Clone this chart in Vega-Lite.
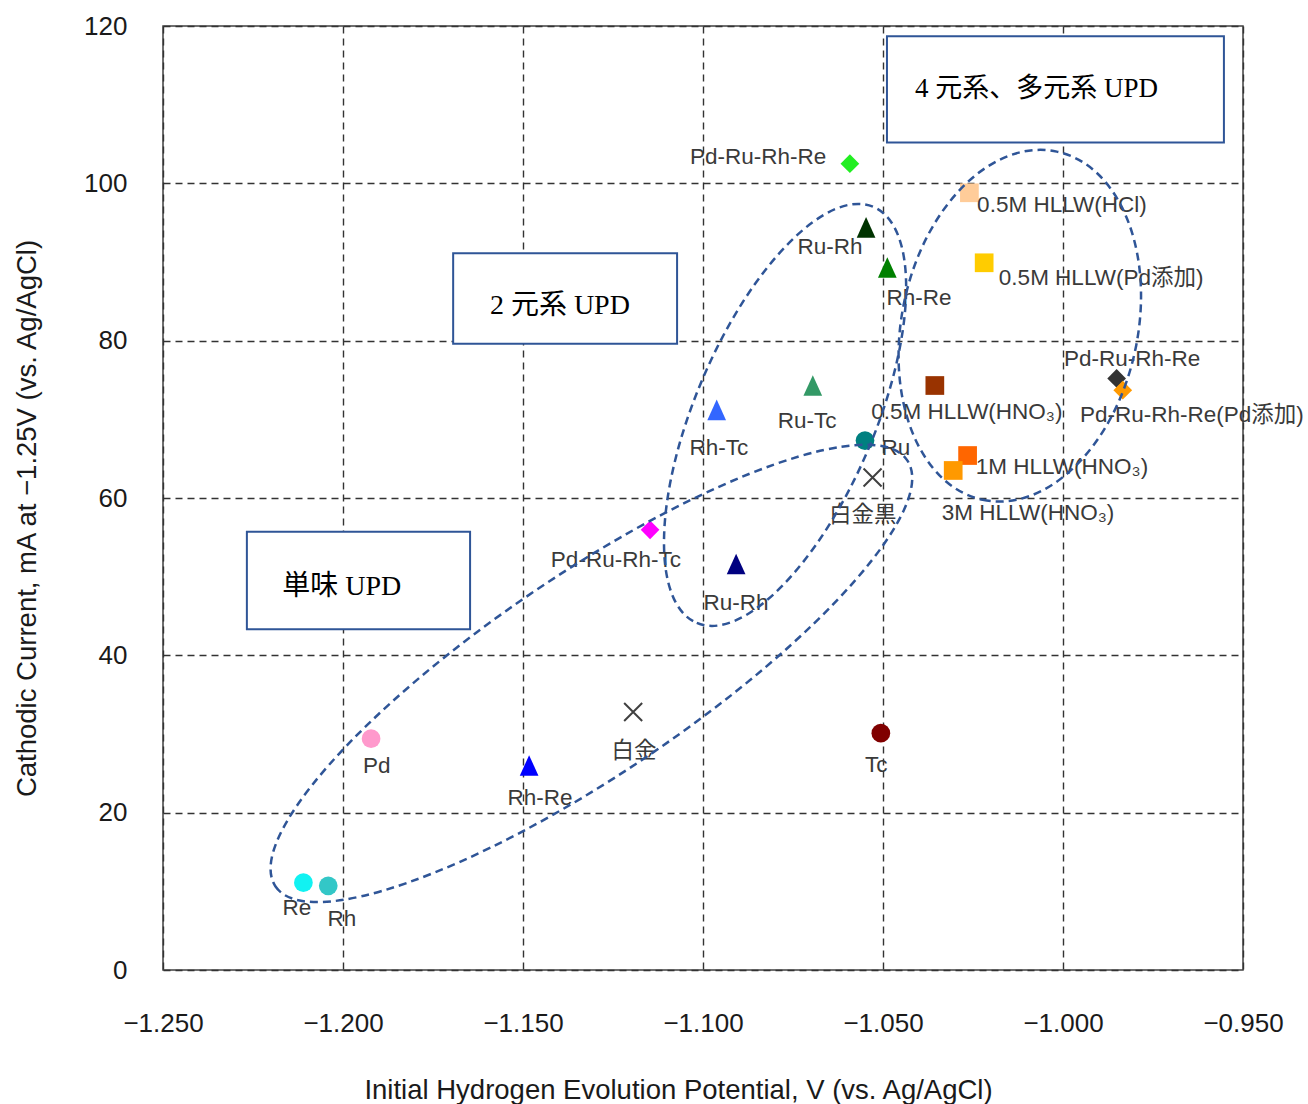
{
  "$schema": "https://vega.github.io/schema/vega-lite/v6.json",
  "width": 1080,
  "height": 944,
  "autosize": {"type": "none"},
  "padding": {"left": 163, "top": 26, "right": 65, "bottom": 134},
  "background": "white",
  "config": {"view": {"stroke": "#404040", "strokeWidth": 1.5}, "font": "Liberation Sans"},
  "datasets": {
    "markers": [
      {"id": "Re", "x": -1.2110, "y": 11.1},
      {"id": "Rh", "x": -1.2041, "y": 10.7},
      {"id": "Pd", "x": -1.1922, "y": 29.4},
      {"id": "Tc", "x": -1.0506, "y": 30.1},
      {"id": "Ru", "x": -1.0550, "y": 67.3},
      {"id": "Rh-Re (blue)", "x": -1.1483, "y": 26.0},
      {"id": "Ru-Rh (navy)", "x": -1.0908, "y": 51.6},
      {"id": "Rh-Tc", "x": -1.0962, "y": 71.2},
      {"id": "Ru-Tc", "x": -1.0695, "y": 74.3},
      {"id": "Ru-Rh (dark green)", "x": -1.0547, "y": 94.4},
      {"id": "Rh-Re (green)", "x": -1.0488, "y": 89.3},
      {"id": "Pd-Ru-Rh-Tc", "x": -1.1147, "y": 55.95},
      {"id": "Pd-Ru-Rh-Re (green)", "x": -1.0592, "y": 102.5},
      {"id": "Pd-Ru-Rh-Re (dark)", "x": -0.9851, "y": 75.2},
      {"id": "Pd-Ru-Rh-Re(Pd添加)", "x": -0.9834, "y": 73.7},
      {"id": "0.5M HLLW(HCl)", "x": -1.0260, "y": 98.8},
      {"id": "0.5M HLLW(Pd添加)", "x": -1.0219, "y": 89.9},
      {"id": "0.5M HLLW(HNO3)", "x": -1.0356, "y": 74.3},
      {"id": "1M HLLW(HNO3)", "x": -1.0265, "y": 65.4},
      {"id": "3M HLLW(HNO3)", "x": -1.0305, "y": 63.5}
    ],
    "crosses": [
      {"id": "白金", "x": -1.1194, "y": 32.8},
      {"id": "白金黒", "x": -1.0529, "y": 62.6}
    ],
    "labels": [
      {"text": "Pd-Ru-Rh-Re", "x": -1.0847, "y": 103.3},
      {"text": "Ru-Rh", "x": -1.0647, "y": 91.9},
      {"text": "Rh-Re", "x": -1.0400, "y": 85.4},
      {"text": "0.5M HLLW(HCl)", "x": -1.0003, "y": 97.2},
      {"text": "0.5M HLLW(Pd添加)", "x": -0.9894, "y": 88.0},
      {"text": "Pd-Ru-Rh-Re", "x": -0.9808, "y": 77.7},
      {"text": "0.5M HLLW(HNO₃)", "x": -1.0267, "y": 70.9},
      {"text": "Pd-Ru-Rh-Re(Pd添加)", "x": -0.9642, "y": 70.5},
      {"text": "1M HLLW(HNO₃)", "x": -1.0003, "y": 63.9},
      {"text": "3M HLLW(HNO₃)", "x": -1.0097, "y": 58.1},
      {"text": "Ru", "x": -1.0464, "y": 66.3},
      {"text": "白金黒", "x": -1.0556, "y": 57.8},
      {"text": "Ru-Tc", "x": -1.0711, "y": 69.8},
      {"text": "Rh-Tc", "x": -1.0956, "y": 66.4},
      {"text": "Pd-Ru-Rh-Tc", "x": -1.1242, "y": 52.1},
      {"text": "Ru-Rh", "x": -1.0908, "y": 46.7},
      {"text": "Pd", "x": -1.1906, "y": 25.9},
      {"text": "Rh-Re", "x": -1.1453, "y": 21.9},
      {"text": "白金", "x": -1.1192, "y": 27.9},
      {"text": "Tc", "x": -1.0519, "y": 26.1},
      {"text": "Re", "x": -1.2128, "y": 7.9},
      {"text": "Rh", "x": -1.2003, "y": 6.5}
    ],
    "ellipses": [
      {"id": "単味", "x": -1.1310, "y": 37.7},
      {"id": "2元系", "x": -1.0772, "y": 70.56},
      {"id": "多元系", "x": -1.0120, "y": 81.9}
    ],
    "boxes": [
      {"id": "b1", "x": -1.0489, "x2": -0.9553, "y": 118.7, "y2": 105.2},
      {"id": "b2", "x": -1.1694, "x2": -1.1072, "y": 91.1, "y2": 79.6},
      {"id": "b3", "x": -1.2267, "x2": -1.1647, "y": 55.7, "y2": 43.3}
    ],
    "boxtext": [
      {"id": "b1", "text": "4 元系、多元系 UPD", "x": -1.0411, "y": 112.0},
      {"id": "b2", "text": "2 元系 UPD", "x": -1.1592, "y": 84.4},
      {"id": "b3", "text": "単味 UPD", "x": -1.2169, "y": 48.7}
    ]
  },
  "layer": [
    {
      "data": {"name": "boxes"},
      "mark": {"type": "rect", "fill": "white", "stroke": "#2F5597", "strokeWidth": 2},
      "encoding": {
        "x": {
          "field": "x", "type": "quantitative",
          "scale": {"domain": [-1.25, -0.95], "nice": false, "zero": false},
          "axis": {
            "values": [-1.25, -1.2, -1.15, -1.1, -1.05, -1.0, -0.95],
            "format": ".3f",
            "title": "Initial Hydrogen Evolution Potential, V (vs. Ag/AgCl)",
            "grid": true, "gridDash": [7, 5], "gridColor": "#333333", "gridWidth": 1.4,
            "domain": false, "ticks": false,
            "labelFontSize": 26, "labelColor": "#1a1a1a", "labelPadding": 40,
            "labelFlush": false, "labelOverlap": false,
            "titleFontSize": 27.5, "titleFontWeight": "normal", "titleColor": "#1a1a1a",
            "titleX": 515, "titleY": 120, "titleBaseline": "middle", "titleAlign": "center"
          }
        },
        "x2": {"field": "x2"},
        "y": {
          "field": "y", "type": "quantitative",
          "scale": {"domain": [0, 120], "nice": false, "zero": true},
          "axis": {
            "values": [0, 20, 40, 60, 80, 100, 120],
            "format": "d",
            "title": "Cathodic Current, mA at −1.25V (vs. Ag/AgCl)",
            "grid": true, "gridDash": [7, 5], "gridColor": "#333333", "gridWidth": 1.4,
            "domain": false, "ticks": false,
            "labelFontSize": 26, "labelColor": "#1a1a1a", "labelPadding": 36,
            "labelFlush": false, "labelOverlap": false,
            "titleFontSize": 27.5, "titleFontWeight": "normal", "titleColor": "#1a1a1a",
            "titleX": -136, "titleY": 492, "titleBaseline": "middle", "titleAlign": "center", "titleAngle": -90
          }
        },
        "y2": {"field": "y2"}
      }
    },
    {
      "data": {"name": "markers"},
      "mark": {"type": "point", "filled": true, "opacity": 1, "size": 350, "strokeWidth": 0},
      "encoding": {
        "x": {"field": "x", "type": "quantitative"},
        "y": {"field": "y", "type": "quantitative"},
        "color": {
          "field": "id", "type": "nominal", "legend": null,
          "scale": {
            "domain": ["Re", "Rh", "Pd", "Tc", "Ru", "Rh-Re (blue)", "Ru-Rh (navy)", "Rh-Tc", "Ru-Tc", "Ru-Rh (dark green)", "Rh-Re (green)", "Pd-Ru-Rh-Tc", "Pd-Ru-Rh-Re (green)", "Pd-Ru-Rh-Re (dark)", "Pd-Ru-Rh-Re(Pd添加)", "0.5M HLLW(HCl)", "0.5M HLLW(Pd添加)", "0.5M HLLW(HNO3)", "1M HLLW(HNO3)", "3M HLLW(HNO3)"],
            "range": ["#11F2F2", "#33C7C7", "#FF99CC", "#800000", "#008080", "#0000FF", "#000080", "#3366FF", "#339966", "#003300", "#008000", "#FF00FF", "#22EE22", "#333333", "#FF9900", "#FFCC99", "#FFCC00", "#993300", "#FF6600", "#FF9900"]
          }
        },
        "shape": {
          "field": "id", "type": "nominal", "legend": null,
          "scale": {
            "domain": ["Re", "Rh", "Pd", "Tc", "Ru", "Rh-Re (blue)", "Ru-Rh (navy)", "Rh-Tc", "Ru-Tc", "Ru-Rh (dark green)", "Rh-Re (green)", "Pd-Ru-Rh-Tc", "Pd-Ru-Rh-Re (green)", "Pd-Ru-Rh-Re (dark)", "Pd-Ru-Rh-Re(Pd添加)", "0.5M HLLW(HCl)", "0.5M HLLW(Pd添加)", "0.5M HLLW(HNO3)", "1M HLLW(HNO3)", "3M HLLW(HNO3)"],
            "range": ["circle", "circle", "circle", "circle", "circle", "M 0 -1.1 L 1 1.1 L -1 1.1 Z", "M 0 -1.1 L 1 1.1 L -1 1.1 Z", "M 0 -1.1 L 1 1.1 L -1 1.1 Z", "M 0 -1.1 L 1 1.1 L -1 1.1 Z", "M 0 -1.1 L 1 1.1 L -1 1.1 Z", "M 0 -1.1 L 1 1.1 L -1 1.1 Z", "diamond", "diamond", "diamond", "diamond", "square", "square", "square", "square", "square"]
          }
        }
      }
    },
    {
      "data": {"name": "crosses"},
      "mark": {"type": "point", "shape": "M -1 -1 L 1 1 M -1 1 L 1 -1", "size": 324, "filled": false, "stroke": "#404040", "strokeWidth": 2, "opacity": 1},
      "encoding": {
        "x": {"field": "x", "type": "quantitative"},
        "y": {"field": "y", "type": "quantitative"}
      }
    },
    {
      "data": {"name": "labels"},
      "mark": {"type": "text", "align": "center", "baseline": "middle", "fontSize": 22.5, "color": "#3a3a3a", "font": "Liberation Sans, Noto Sans CJK JP"},
      "encoding": {
        "x": {"field": "x", "type": "quantitative"},
        "y": {"field": "y", "type": "quantitative"},
        "text": {"field": "text"}
      }
    },
    {
      "data": {"name": "boxtext"},
      "transform": [{"filter": "datum.id === 'b1'"}],
      "mark": {"type": "text", "align": "left", "baseline": "middle", "fontSize": 27, "color": "#000000", "font": "Liberation Serif, Noto Sans CJK JP"},
      "encoding": {
        "x": {"field": "x", "type": "quantitative"},
        "y": {"field": "y", "type": "quantitative"},
        "text": {"field": "text"}
      }
    },
    {
      "data": {"name": "boxtext"},
      "transform": [{"filter": "datum.id !== 'b1'"}],
      "mark": {"type": "text", "align": "left", "baseline": "middle", "fontSize": 28, "color": "#000000", "font": "Liberation Serif, Noto Sans CJK JP"},
      "encoding": {
        "x": {"field": "x", "type": "quantitative"},
        "y": {"field": "y", "type": "quantitative"},
        "text": {"field": "text"}
      }
    },
    {
      "data": {"name": "ellipses"},
      "transform": [{"filter": "datum.id === '単味'"}],
      "mark": {"type": "point", "shape": "M -381 0 A 381 100 0 1 0 381 0 A 381 100 0 1 0 -381 0 Z", "size": 4, "angle": 326, "filled": false, "stroke": "#2F5597", "strokeWidth": 2.5, "strokeDash": [8, 5], "opacity": 1},
      "encoding": {
        "x": {"field": "x", "type": "quantitative"},
        "y": {"field": "y", "type": "quantitative"}
      }
    },
    {
      "data": {"name": "ellipses"},
      "transform": [{"filter": "datum.id === '2元系'"}],
      "mark": {"type": "point", "shape": "M -226 0 A 226 90 0 1 0 226 0 A 226 90 0 1 0 -226 0 Z", "size": 4, "angle": 293, "filled": false, "stroke": "#2F5597", "strokeWidth": 2.5, "strokeDash": [8, 5], "opacity": 1},
      "encoding": {
        "x": {"field": "x", "type": "quantitative"},
        "y": {"field": "y", "type": "quantitative"}
      }
    },
    {
      "data": {"name": "ellipses"},
      "transform": [{"filter": "datum.id === '多元系'"}],
      "mark": {"type": "point", "shape": "M -178 0 A 178 118 0 1 0 178 0 A 178 118 0 1 0 -178 0 Z", "size": 4, "angle": 282, "filled": false, "stroke": "#2F5597", "strokeWidth": 2.5, "strokeDash": [8, 5], "opacity": 1},
      "encoding": {
        "x": {"field": "x", "type": "quantitative"},
        "y": {"field": "y", "type": "quantitative"}
      }
    }
  ]
}
